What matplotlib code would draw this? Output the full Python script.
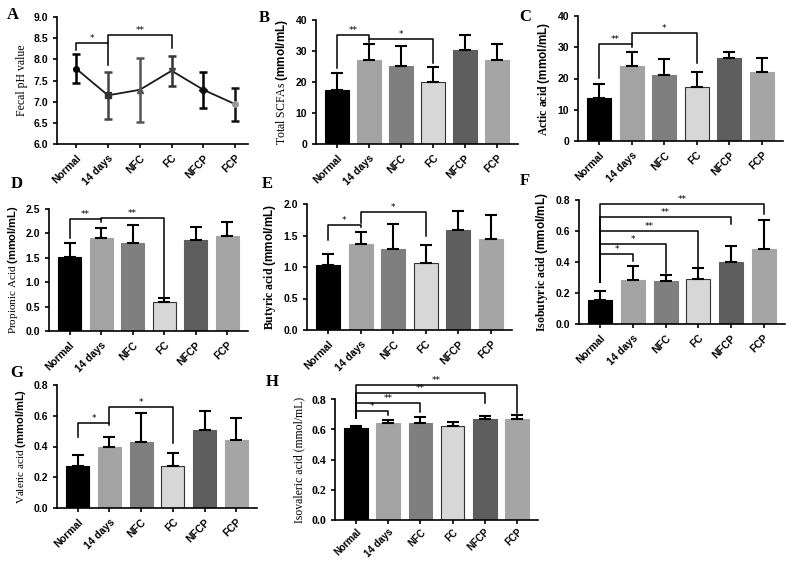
import numpy as np
import matplotlib
matplotlib.use('Agg')
import matplotlib.pyplot as plt

plt.rcParams['mathtext.fontset'] = 'custom'
plt.rcParams['mathtext.bf'] = 'Liberation Sans:bold'
plt.rcParams['mathtext.rm'] = 'Liberation Serif'

groups = ['Normal', '14 days', 'NFC', 'FC', 'NFCP', 'FCP']

ph_mean = [7.78, 7.15, 7.28, 7.73, 7.28, 6.94]
ph_sd = [0.34, 0.55, 0.76, 0.35, 0.42, 0.39]

scfa_mean = [17.3, 27.0, 25.3, 20.0, 30.2, 27.0]
scfa_sd = [5.5, 5.2, 6.4, 5.0, 5.1, 5.3]

acetic_mean = [13.7, 24.1, 21.0, 17.2, 26.5, 22.1]
acetic_sd = [4.6, 4.3, 5.2, 4.8, 2.1, 4.4]

propionic_mean = [1.51, 1.90, 1.81, 0.60, 1.86, 1.94]
propionic_sd = [0.30, 0.21, 0.37, 0.07, 0.28, 0.29]

butyric_mean = [1.03, 1.37, 1.29, 1.06, 1.59, 1.45]
butyric_sd = [0.17, 0.18, 0.39, 0.29, 0.30, 0.37]

isobutyric_mean = [0.155, 0.285, 0.278, 0.29, 0.40, 0.485]
isobutyric_sd = [0.06, 0.09, 0.04, 0.072, 0.105, 0.185]

valeric_mean = [0.27, 0.40, 0.43, 0.27, 0.51, 0.445]
valeric_sd = [0.075, 0.06, 0.185, 0.085, 0.12, 0.14]

isovaleric_mean = [0.607, 0.643, 0.643, 0.62, 0.665, 0.665]
isovaleric_sd = [0.013, 0.015, 0.037, 0.028, 0.025, 0.03]

# significance brackets: (from, to, height, left leg end, right leg end, label)
ph_sig = [(0, 1, 8.38, 8.22, 7.87, '*'), (1, 3, 8.57, 8.38, 8.27, '**')]
scfa_sig = [(0, 1, 35.2, 24.5, 34.0, '**'), (1, 3, 33.8, 33.0, 26.1, '*')]
acetic_sig = [(0, 1, 30.9, 20.1, 30.0, '**'), (1, 3, 34.5, 30.9, 24.9, '*')]
propionic_sig = [(0, 1, 2.30, 1.90, 2.23, '**'), (1, 3, 2.31, 2.30, 0.69, '**')]
butyric_sig = [(0, 1, 1.67, 1.43, 1.63, '*'), (1, 3, 1.88, 1.70, 1.49, '*')]
isobutyric_sig = [(0, 1, 0.45, 0.27, 0.407, '*'), (0, 2, 0.515, 0.27, 0.33, '*'),
                  (0, 3, 0.60, 0.27, 0.345, '**'), (0, 4, 0.688, 0.27, 0.645, '**'),
                  (0, 5, 0.772, 0.27, 0.708, '**')]
valeric_sig = [(0, 1, 0.554, 0.463, 0.54, '*'), (1, 3, 0.654, 0.554, 0.42, '*')]
isovaleric_sig = [(0, 1, 0.718, 0.674, 0.696, '*'), (0, 2, 0.774, 0.674, 0.711, '**'),
                  (0, 4, 0.840, 0.674, 0.774, '**'), (0, 5, 0.895, 0.674, 0.707, '**')]

bar_colors = ['#000000', '#a3a3a3', '#7f7f7f', '#d7d7d7', '#5e5e5e', '#a5a5a5']
edge_colors = ['#000000', '#a3a3a3', '#7f7f7f', '#333333', '#5e5e5e', '#a5a5a5']
W, H = 789, 561


def make_ax(x0, y0, x1, y1):
    ax = fig.add_axes([x0 / W, 1 - y1 / H, (x1 - x0) / W, (y1 - y0) / H])
    for s in ['top', 'right']:
        ax.spines[s].set_visible(False)
    for s in ['left', 'bottom']:
        ax.spines[s].set_linewidth(1.2)
    ax.tick_params(width=1.2, length=3, labelsize=7.5)
    return ax


def style_ticks(ax, xsize=7.5):
    ax.set_xticks(range(len(groups)))
    ax.set_xticklabels(groups, rotation=45, ha='right', rotation_mode='anchor',
                       fontsize=xsize, fontweight='bold', family='Liberation Sans')
    for lab in ax.get_yticklabels():
        lab.set_fontweight('bold')
        lab.set_family('Liberation Sans')


def brackets(ax, sig):
    for i, j, y, yl, yr, txt in sig:
        ax.plot([i, i, j, j], [yl, y, y, yr], color='k', lw=1.1, clip_on=False)
        ax.text((i + j) / 2, y, txt, ha='center', va='bottom', fontsize=6.5, clip_on=False)


def bar_panel(ax, mean, sd, ymax, step, xsize=7.5):
    x = np.arange(len(groups))
    ax.bar(x, mean, width=0.73, color=bar_colors, edgecolor=edge_colors,
           linewidth=0.8, zorder=2)
    ax.errorbar(x, mean, yerr=[np.zeros(len(mean)), sd], fmt='none', ecolor='k',
                elinewidth=1.5, capsize=4.5, capthick=1.5, zorder=3)
    ax.set_xlim(-0.65, 5.65)
    ax.set_ylim(0, ymax)
    ax.set_yticks(np.arange(0, ymax + step / 2, step))
    style_ticks(ax, xsize)


fig = plt.figure(figsize=(7.89, 5.61), dpi=100)

# A
ax = make_ax(57, 17, 248, 144)
x = np.arange(len(groups))
ax.plot(x, ph_mean, color='#1a1a1a', lw=1.3, zorder=2)
markers = ['o', 's', '^', 'v', 'D', 'o']
mcolors = ['#000000', '#333333', '#555555', '#444444', '#111111', '#999999']
ecolors = ['#000000', '#444444', '#555555', '#333333', '#000000', '#111111']
for k in range(len(groups)):
    ax.errorbar(x[k], ph_mean[k], yerr=ph_sd[k], fmt=markers[k], color=mcolors[k],
                ecolor=ecolors[k], ms=4, elinewidth=1.8, capsize=3, capthick=1.8, zorder=3)
ax.set_xlim(-0.6, 5.4)
ax.set_ylim(6.0, 9.0)
ax.set_yticks(np.arange(6.0, 9.01, 0.5))
ax.set_yticklabels(['%.1f' % v for v in np.arange(6.0, 9.01, 0.5)])
style_ticks(ax)
ax.set_ylabel('Fecal pH value', family='Liberation Serif', fontsize=8.5)
brackets(ax, ph_sig)

# B
ax = make_ax(316, 20, 518, 144)
bar_panel(ax, scfa_mean, scfa_sd, 40, 10)
ax.set_ylabel(r'Total SCFAs $\mathbf{(mmol/mL)}$', family='Liberation Serif', fontsize=8.5)
brackets(ax, scfa_sig)

# C
ax = make_ax(578, 16, 783, 141)
bar_panel(ax, acetic_mean, acetic_sd, 40, 10)
ax.set_ylabel(r'Actic acid $\mathbf{(mmol/mL)}$', family='Liberation Serif',
              fontweight='bold', fontsize=8.5)
brackets(ax, acetic_sig)

# D
ax = make_ax(49, 209, 248, 331)
bar_panel(ax, propionic_mean, propionic_sd, 2.5, 0.5)
ax.set_ylabel(r'Propionic Acid $\mathbf{(mmol/mL)}$', family='Liberation Serif', fontsize=8)
brackets(ax, propionic_sig)

# E
ax = make_ax(307, 204, 512, 330)
bar_panel(ax, butyric_mean, butyric_sd, 2.0, 0.5)
ax.set_ylabel(r'Butyric acid $\mathbf{(mmol/mL)}$', family='Liberation Serif',
              fontweight='bold', fontsize=8.5)
brackets(ax, butyric_sig)

# F
ax = make_ax(579, 200, 785, 324)
bar_panel(ax, isobutyric_mean, isobutyric_sd, 0.8, 0.2)
ax.set_ylabel(r'Isobutyric acid $\mathbf{(mmol/mL)}$', family='Liberation Serif',
              fontweight='bold', fontsize=8.5)
brackets(ax, isobutyric_sig)

# G
ax = make_ax(57, 385, 257, 508)
bar_panel(ax, valeric_mean, valeric_sd, 0.8, 0.2)
ax.set_ylabel(r'Valeric acid $\mathbf{(mmol/mL)}$', family='Liberation Serif', fontsize=8)
brackets(ax, valeric_sig)

# H
ax = make_ax(335, 399, 538, 520)
bar_panel(ax, isovaleric_mean, isovaleric_sd, 0.8, 0.2, xsize=7)
for lab in ax.get_yticklabels():
    lab.set_family('Liberation Serif')
    lab.set_fontsize(8.5)
ax.tick_params(axis='x', pad=2)
ax.set_ylabel('Isovaleric acid (mmol/mL)', family='Liberation Serif', fontsize=8.5)
brackets(ax, isovaleric_sig)

# panel letters
letters = ['A', 'B', 'C', 'D', 'E', 'F', 'G', 'H']
letter_pos = [(13, 15), (264, 18), (525, 17), (17, 184), (267, 184), (525, 181), (17, 373), (272, 382)]
for t, (px, py) in zip(letters, letter_pos):
    fig.text(px / W, 1 - py / H, t, ha='center', va='center', fontsize=12,
             fontweight='bold', family='Liberation Serif')

fig.savefig('out.png', dpi=100)
